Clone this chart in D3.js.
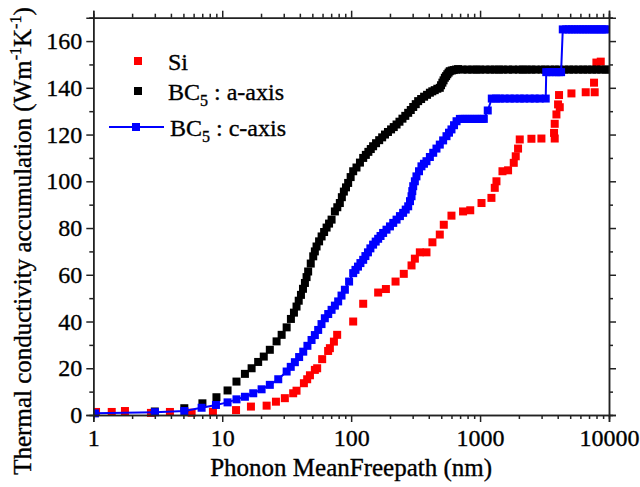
<!DOCTYPE html>
<html>
<head>
<meta charset="utf-8">
<script src="https://cdn.jsdelivr.net/npm/d3@7"></script>
<style>
  body { margin: 0; background: #fff; }
</style>
</head>
<body>
<div id="chart"></div>
<script>
// mean free path (nm), accumulated kappa (W/mK)
const siData = [
  [1.05, 1.3], [1.39, 1.3], [1.76, 1.7], [2.8, 0.9], [3.93, 1.3], [5.79, 1.0], [8.47, 1.4],
  [12.8, 2.1], [16.7, 3.6], [22.1, 4.0], [26.1, 5.7], [30.6, 7.2], [35.5, 9.3], [37.7, 10.4],
  [43.0, 13.6], [45.6, 15.3], [47.9, 17.0], [52.3, 19.3], [54.5, 20.0], [59.6, 23.9],
  [66.3, 27.4], [68.4, 28.6], [73.5, 31.4], [77.9, 34.3], [103.7, 40.0], [124, 47.6],
  [162, 52.4], [186, 53.9], [221, 57.1], [256, 60.4], [294, 64.0], [312, 66.9], [341, 69.6],
  [384, 69.6], [427, 73.9], [487, 77.2], [523, 81.4], [600, 85.3], [738, 87.1], [839, 87.6],
  [1026, 90.7], [1225, 92.9], [1300, 97.2], [1340, 100], [1492, 104.3], [1649, 104.7],
  [1825, 107.9], [1891, 110.7], [1971, 114], [2031, 117.9], [2502, 118.2], [2991, 118.3],
  [3793, 118.3], [3748, 120.7], [3793, 124.6], [3911, 128.6], [4150, 131.7], [4027, 132.9],
  [4097, 136.9], [5113, 137.6], [6598, 138.1], [7745, 138.1], [7655, 142.2], [7985, 150.8],
  [8630, 151.2]
];

const aAxisData = [
  [3.0, 1.5], [5.08, 2.9], [7.02, 5.0], [9.02, 7.6], [11.0, 10.5], [12.9, 14.3], [15.0, 17.6],
  [16.9, 20.0], [19.0, 22.7], [21.0, 25.0], [23.4, 27.9], [26.4, 31.5], [28.9, 34.3],
  [31.6, 37.5], [34.1, 41.1], [36.0, 43.8], [37.7, 46.4], [39.2, 48.9], [40.8, 51.4],
  [42.3, 54.0], [43.8, 56.5], [45.1, 59.0], [46.4, 61.4], [48.6, 64.8], [50.8, 67.9],
  [52.3, 70.0], [53.9, 72.1], [56.4, 74.3], [59.0, 76.4], [61.7, 78.3], [64.5, 80.2],
  [67.4, 81.9], [70.5, 83.6], [74.8, 87.1], [78.1, 88.9], [81.7, 90.7], [84.7, 93.2],
  [87.8, 95.6], [91.2, 97.4], [94.8, 99.3], [99.1, 101.8], [103.7, 104.3], [110, 105.9],
  [117, 108.0], [124, 110], [130, 111.3], [136, 112.6], [142, 113.8], [148, 115],
  [156, 116.3], [165, 117.6], [174, 118.8], [183, 120], [193, 121.1], [204, 122.2],
  [214, 123.2], [225, 124.3], [237, 125.5], [250, 126.8], [263, 128.0], [277, 129.3],
  [290, 130.5], [303, 131.8], [317, 133.0], [331, 134.3], [349, 135.2], [368, 136.2],
  [388, 137.0], [408, 137.9], [426, 138.5], [445, 139.0], [466, 139.6], [487, 140],
  [498, 141.1], [510, 142.2], [521, 143.2], [533, 144.3], [545, 145.0], [557, 145.8],
  [570, 146.5], [582, 147.1], [603, 147.4], [625, 147.6], [650, 147.8], [675, 148],
  [730, 147.8], [800, 147.8], [870, 147.8], [940, 147.8], [1000, 147.8], [1100, 147.8],
  [1200, 147.8], [1300, 147.8], [1400, 147.8], [1500, 147.8], [1650, 147.8], [1800, 147.8],
  [2000, 147.8], [2150, 147.8], [2300, 147.8], [2500, 147.8], [2700, 147.8], [3000, 147.8],
  [3200, 147.8], [3500, 147.8], [3800, 147.8], [4100, 147.8], [4500, 147.8], [4900, 147.8],
  [5300, 147.8], [5800, 147.8], [6300, 147.8], [6800, 147.8], [7400, 147.8], [8000, 147.8],
  [8700, 147.8], [9400, 147.8], [10000, 147.8]
];

const cAxisData = [
  [1.03, 0.7], [3.01, 1.2], [5.08, 1.7], [6.92, 3.1], [8.94, 4.3], [11.0, 5.4], [12.9, 6.7],
  [15.0, 7.8], [17.4, 9.3], [20.2, 11.0], [23.4, 12.9], [27.2, 15.3], [31.6, 18.6],
  [34.0, 20.6], [36.6, 22.6], [39.5, 24.8], [42.5, 27.1], [45.8, 29.6], [49.3, 32.1],
  [52.3, 34.2], [55.5, 36.4], [58.9, 38.9], [62.5, 41.4], [66.4, 43.2], [70.5, 45],
  [74.8, 46.8], [79.3, 48.6], [84.2, 51.1], [89.4, 53.6], [96.4, 57.1], [103.7, 60.7],
  [108, 62.1], [113, 63.5], [118, 65.0], [124, 66.4], [129, 68.0], [135, 69.6], [141, 71.3],
  [148, 72.9], [155, 74.2], [162, 75.4], [169, 76.6], [177, 77.9], [188, 79.3], [200, 80.7],
  [212, 82.2], [225, 83.6], [239, 85.1], [253, 86.5], [265, 87.9], [277, 89.3], [286, 91.5],
  [294, 93.6], [298, 95.8], [303, 97.9], [312, 100.0], [321, 102.1], [336, 104.3],
  [351, 106.4], [367, 107.5], [384, 108.6], [408, 110.4], [433, 112.2], [459, 114.0],
  [487, 115.7], [517, 117.5], [549, 119.3], [574, 120.8], [600, 122.2], [628, 124.0],
  [657, 125.7], [697, 126.7], [730, 126.7], [761, 126.7], [796, 126.7], [832, 126.7],
  [870, 126.7], [909, 126.7], [950, 126.7], [995, 126.7], [1030, 126.7], [1069, 126.7],
  [1147, 130.3], [1233, 135.4], [1330, 135.4], [1422, 135.4], [1550, 135.4], [1700, 135.4],
  [1850, 135.4], [2031, 135.4], [2200, 135.4], [2427, 135.4], [2650, 135.4], [2900, 135.4],
  [3230, 135.4], [3260, 146.7], [3450, 146.7], [3650, 146.7], [3900, 146.7], [4100, 146.7],
  [4250, 146.7], [4380, 165.0], [4650, 165.0], [4900, 165.0], [5150, 165.0], [5400, 165.0],
  [5700, 165.0], [6000, 165.0], [6300, 165.0], [6600, 165.0], [6950, 165.0], [7300, 165.0],
  [7650, 165.0], [8000, 165.0], [8400, 165.0], [8800, 165.0], [9200, 165.0], [9600, 165.0]
];

const xMajor = [1, 10, 100, 1000, 10000];
const yMajor = [0, 20, 40, 60, 80, 100, 120, 140, 160];
const yMinor = [10, 30, 50, 70, 90, 110, 130, 150, 170];

const serif = "'Times New Roman', 'Liberation Serif', 'DejaVu Serif', serif";
const width = 640, height = 487;
const margin = {top: 17.7, right: 31, bottom: 72, left: 93.3};

const svg = d3.select("#chart").append("svg")
  .attr("width", width)
  .attr("height", height)
  .style("font-family", serif);

const x = d3.scaleLog().domain([1, 10000]).range([margin.left, width - margin.right]);
const y = d3.scaleLinear().domain([0, 170]).range([height - margin.bottom, margin.top]);

const xMinor = [];
xMajor.slice(0, -1).forEach(d => { for (let k = 2; k <= 9; k++) xMinor.push(d * k); });

svg.append("clipPath").attr("id", "clip")
  .append("rect")
  .attr("x", x.range()[0]).attr("y", 0)
  .attr("width", x.range()[1] - x.range()[0]).attr("height", height);

const plot = svg.append("g").attr("clip-path", "url(#clip)");

function squares(data, color) {
  plot.append("g").selectAll("rect")
    .data(data).enter()
    .append("rect")
    .attr("x", d => x(d[0]) - 4)
    .attr("y", d => y(d[1]) - 4)
    .attr("width", 8)
    .attr("height", 8)
    .attr("fill", color);
}

squares(siData, "#ff0000");
squares(aAxisData, "#000000");

plot.append("path")
  .datum(cAxisData)
  .attr("fill", "none")
  .attr("stroke", "#0000ff")
  .attr("stroke-width", 2)
  .attr("d", d3.line().x(d => x(d[0])).y(d => y(d[1])));
squares(cAxisData, "#0000ff");

// axes, mirrored on all four sides
const yBottom = y.range()[0], yTop = y.range()[1];
const xLeft = x.range()[0], xRight = x.range()[1];

function darkText(sel, size) {
  sel.style("font-family", serif)
    .style("font-size", size + "px")
    .attr("fill", "#000")
    .attr("stroke", "#000")
    .attr("stroke-width", 0.35);
}

function styleAxis(g) {
  g.attr("font-family", null).attr("font-size", null);
  g.select(".domain").attr("stroke", "#222").attr("stroke-width", 1.5);
  g.selectAll(".tick line").attr("stroke", "#222").attr("stroke-width", 1.5);
  g.selectAll("text").call(darkText, 24);
}

svg.append("g").attr("transform", `translate(0,${yBottom})`)
  .call(d3.axisBottom(x).tickValues(xMajor).tickFormat(d3.format("d")).tickSize(7).tickPadding(7))
  .call(styleAxis);
svg.append("g").attr("transform", `translate(0,${yBottom})`)
  .call(d3.axisBottom(x).tickValues(xMinor).tickFormat("").tickSize(4))
  .call(styleAxis);
svg.append("g").attr("transform", `translate(0,${yTop})`)
  .call(d3.axisTop(x).tickValues(xMajor).tickFormat("").tickSize(7))
  .call(styleAxis);
svg.append("g").attr("transform", `translate(0,${yTop})`)
  .call(d3.axisTop(x).tickValues(xMinor).tickFormat("").tickSize(4))
  .call(styleAxis);

svg.append("g").attr("transform", `translate(${xLeft},0)`)
  .call(d3.axisLeft(y).tickValues(yMajor).tickSize(7).tickPadding(4))
  .call(styleAxis);
svg.append("g").attr("transform", `translate(${xLeft},0)`)
  .call(d3.axisLeft(y).tickValues(yMinor).tickFormat("").tickSize(4))
  .call(styleAxis);
svg.append("g").attr("transform", `translate(${xRight},0)`)
  .call(d3.axisRight(y).tickValues(yMajor).tickFormat("").tickSize(7))
  .call(styleAxis);
svg.append("g").attr("transform", `translate(${xRight},0)`)
  .call(d3.axisRight(y).tickValues(yMinor).tickFormat("").tickSize(4))
  .call(styleAxis);

// axis titles
svg.append("text")
  .attr("x", (xLeft + xRight) / 2)
  .attr("y", 476)
  .attr("text-anchor", "middle")
  .call(darkText, 25)
  .text("Phonon MeanFreepath (nm)");

const yTitle = svg.append("text")
  .attr("transform", "translate(31,241) rotate(-90)")
  .attr("text-anchor", "middle")
  .call(darkText, 25);
yTitle.append("tspan").text("Thermal conductivity accumulation (Wm");
yTitle.append("tspan").attr("dy", -10).style("font-size", "16px").text("-1");
yTitle.append("tspan").attr("dy", 10).text("K");
yTitle.append("tspan").attr("dy", -10).style("font-size", "16px").text("-1");
yTitle.append("tspan").attr("dy", 10).text(")");

// legend
const legend = svg.append("g");
const legendItems = [
  {label: "Si", color: "#ff0000", y: 61, line: false},
  {label: "a-axis", color: "#000000", y: 91, line: false},
  {label: "c-axis", color: "#0000ff", y: 127, line: true}
];
legendItems.forEach(it => {
  const mx = it.line ? 136 : 138;
  if (it.line) {
    legend.append("line")
      .attr("x1", 109).attr("x2", 164)
      .attr("y1", it.y).attr("y2", it.y)
      .attr("stroke", it.color).attr("stroke-width", 2);
  }
  legend.append("rect")
    .attr("x", mx - 4).attr("y", it.y - 4)
    .attr("width", 8).attr("height", 8)
    .attr("fill", it.color);
  const t = legend.append("text")
    .attr("x", it.line ? 170 : 168)
    .attr("y", it.y + 9)
    .call(darkText, 24);
  if (it.label === "Si") {
    t.text("Si");
  } else {
    t.append("tspan").text("BC");
    t.append("tspan").attr("dy", 6).style("font-size", "16px").text("5");
    t.append("tspan").attr("dy", -6).text(" : " + it.label);
  }
});
</script>
</body>
</html>
